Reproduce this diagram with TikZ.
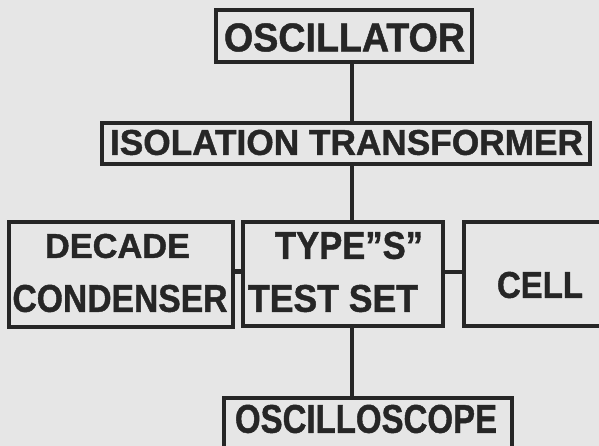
\documentclass[tikz,border=0pt]{standalone}
\usepackage{fontspec}
\setmainfont{Liberation Sans}[BoldFeatures={FakeBold=1.2}]
\usepackage{graphicx}
\usetikzlibrary{fit}
\definecolor{bg}{HTML}{E6E6E6}
\definecolor{ink}{HTML}{262626}
\newcommand{\fittext}[3]{\resizebox{#1pt}{#2pt}{\bfseries #3}}
\begin{document}
\begin{tikzpicture}[x=1pt,y=-1pt,
  box/.style={draw=ink, line width=4pt, inner sep=0pt, outer sep=0pt},
  wire/.style={draw=ink, line width=4.5pt},
  lbl/.style={text=ink, inner sep=0pt, outer sep=0pt, anchor=center}]
\fill[bg] (0,0) rectangle (599,446);
\useasboundingbox (0,0) rectangle (599,446);

% boxes
\node[box, fit={(216,10) (472,62)}] (osc) {};
\node[box, fit={(102,123) (590,164)}] (iso) {};
\node[box, fit={(9,222) (233,327)}] (dec) {};
\node[box, fit={(243,222) (443,326)}] (test) {};
\node[box, fit={(464,222) (620,326)}] (cell) {};
\node[box, fit={(224,398) (512,470)}] (scope) {};

% texts
\node[lbl] (tosc) at (344.5,37.5) {\fittext{241}{28}{OSCILLATOR}};
\node[lbl] (tiso) at (346.5,142.5) {\fittext{473}{25}{ISOLATION TRANSFORMER}};
\node[lbl] (tdec1) at (117.5,246) {\fittext{145}{24}{DECADE}};
\node[lbl] (tdec2) at (120,298.5) {\fittext{215}{27}{CONDENSER}};
\node[lbl] (ttest1) at (349,245.5) {\fittext{148}{27}{TYPE"S"}};
\node[lbl] (ttest2) at (333,298.5) {\fittext{170}{27}{TEST SET}};
\node[lbl] (tcell) at (540,285) {\fittext{86}{26}{CELL}};
\node[lbl] (tscope) at (366,419) {\fittext{262}{28}{OSCILLOSCOPE}};

% connectors
\coordinate (spine) at (352,0);
\draw[wire] (spine |- osc.south) -- (spine |- iso.north);
\draw[wire] (spine |- iso.south) -- (spine |- test.north);
\draw[wire] (spine |- test.south) -- (spine |- scope.north);
\draw[wire] ([yshift=3pt]dec.east) -- ([yshift=3pt]dec.east -| test.west);
\draw[wire] ([yshift=2pt]test.east) -- ([yshift=2pt]test.east -| cell.west);
\end{tikzpicture}
\end{document}
